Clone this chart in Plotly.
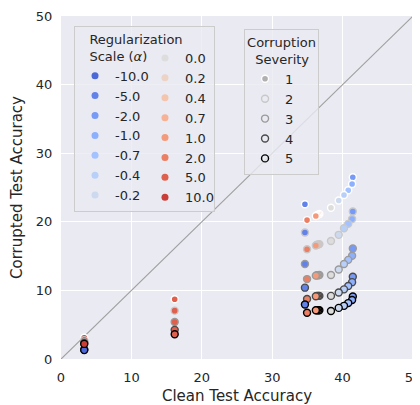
import plotly.graph_objects as go

# ---------------- data ----------------
alphas = [-10.0, -5.0, -2.0, -1.0, -0.7, -0.4, -0.2, 0.0, 0.2, 0.4, 0.7, 1.0, 2.0, 5.0, 10.0]
alpha_labels = ["-10.0", "-5.0", "-2.0", "-1.0", "-0.7", "-0.4", "-0.2",
                "0.0", "0.2", "0.4", "0.7", "1.0", "2.0", "5.0", "10.0"]
clean_acc = [3.3, 34.65, 41.45, 41.35, 40.8, 40.2, 39.45, 38.35, 36.7, 36.55, 36.35, 36.2, 34.95, 16.15, 3.3]
corrupted_sev1 = [1.5, 22.55, 26.5, 25.5, 24.6, 23.9, 23.1, 22.05, 21.15, 21.05, 20.95, 20.85, 20.25, 8.7, 3.1]
corrupted_sev2 = [1.45, 18.45, 21.5, 20.4, 19.7, 19.05, 18.1, 17.2, 16.75, 16.7, 16.65, 16.55, 16.0, 7.05, 2.75]
corrupted_sev3 = [1.4, 13.85, 16.1, 15.05, 14.45, 13.85, 13.05, 12.25, 12.25, 12.2, 12.2, 12.15, 11.65, 5.4, 2.5]
corrupted_sev4 = [1.35, 10.4, 12.0, 11.2, 10.65, 10.15, 9.7, 9.2, 9.2, 9.2, 9.2, 9.15, 8.75, 4.25, 2.3]
corrupted_sev5 = [1.3, 7.95, 9.1, 8.6, 8.15, 7.75, 7.45, 7.0, 7.1, 7.1, 7.1, 7.1, 6.75, 3.6, 2.2]
severities = [1, 2, 3, 4, 5]
corrupted = [corrupted_sev1, corrupted_sev2, corrupted_sev3, corrupted_sev4, corrupted_sev5]
diag = [0, 50]
ticks = [0, 10, 20, 30, 40, 50]

# ---------------- styles ----------------
alpha_colors = ["#4d68d7", "#6282ea", "#779af7", "#8db0fe", "#a3c2ff", "#b8d0f9", "#ccd9ee",
                "#dddddd", "#ecd3c5", "#f5c4ad", "#f7b194", "#f49a7b", "#ec7f63", "#de604d", "#cb3e38"]
sev_edges = ["#ffffff", "#c8c8c8", "#9a9a9a", "#4a4a4a", "#000000"]
sev_legend_fill = ["#b0b0b0", "rgba(0,0,0,0)", "rgba(0,0,0,0)", "rgba(0,0,0,0)", "rgba(0,0,0,0)"]

fig = go.Figure()

# diagonal reference line
fig.add_trace(go.Scatter(x=diag, y=diag, mode="lines", line=dict(color="#a0a0a0", width=1.2),
                         showlegend=False, hoverinfo="skip"))

# data points, one trace per severity
for s, vals, edge in zip(severities, corrupted, sev_edges):
    fig.add_trace(go.Scatter(
        x=clean_acc, y=vals, mode="markers", showlegend=False,
        marker=dict(size=7, color=alpha_colors, line=dict(color=edge, width=1.4)),
        name=f"severity {s}"))

# legend entries for alpha (two columns -> two legends)
for a, lab, col in zip(alphas, alpha_labels, alpha_colors):
    fig.add_trace(go.Scatter(
        x=[None], y=[None], mode="markers", name=lab,
        legend="legend" if a < 0 else "legend3",
        marker=dict(size=7, color=col, line=dict(width=0))))

# legend entries for severity
for s, edge, fill in zip(severities, sev_edges, sev_legend_fill):
    fig.add_trace(go.Scatter(
        x=[None], y=[None], mode="markers", name=str(s), legend="legend2",
        marker=dict(size=7, color=fill, line=dict(color=edge, width=1.4))))

nb = "\u00a0"
# page body has an 8px margin, so the figure is sized 8px smaller
fig.update_layout(
    width=412, height=397,
    margin=dict(l=53, r=7, t=8, b=46, autoexpand=False),
    paper_bgcolor="white", plot_bgcolor="#EAEAF2",
    font=dict(family="DejaVu Sans", size=13, color="#262626"),
    showlegend=True,
    legend=dict(
        x=0.037, y=0.971, xanchor="left", yanchor="top",
        bgcolor="rgba(234,234,242,0.8)", bordercolor="#cccccc", borderwidth=1,
        font=dict(size=13), tracegroupgap=0,
        title=dict(text=nb * 3 + "Regularization" + nb * 7 + "<br>" + nb * 3 + "Scale (<i>α</i>)",
                   font=dict(size=13), side="top"),
    ),
    legend3=dict(
        x=0.2386, y=0.9213, xanchor="left", yanchor="top",
        bgcolor="rgba(0,0,0,0)", borderwidth=0, font=dict(size=13), tracegroupgap=0,
    ),
    legend2=dict(
        x=0.52, y=0.962, xanchor="left", yanchor="top",
        bgcolor="rgba(234,234,242,0.8)", bordercolor="#cccccc", borderwidth=1,
        font=dict(size=13), tracegroupgap=0,
        title=dict(text="Corruption<br>" + nb * 2 + "Severity", font=dict(size=13), side="top center"),
    ),
    xaxis=dict(range=[0, 50], tickvals=ticks, showgrid=True, gridcolor="white", gridwidth=1.2,
               zeroline=False, showline=False, ticks="outside", ticklen=6, tickcolor="rgba(0,0,0,0)",
               tickfont=dict(size=13, color="#262626"), automargin=False, ticklabeloverflow="allow",
               title=dict(text="Clean Test Accuracy", font=dict(size=15), standoff=6)),
    yaxis=dict(range=[0, 50], tickvals=ticks, showgrid=True, gridcolor="white", gridwidth=1.2,
               zeroline=False, showline=False, ticks="outside", ticklen=5, tickcolor="rgba(0,0,0,0)",
               tickfont=dict(size=13, color="#262626"), automargin=False, ticklabeloverflow="allow",
               title=dict(text="Corrupted Test Accuracy", font=dict(size=15), standoff=9)),
)

fig.write_html("out.html")
